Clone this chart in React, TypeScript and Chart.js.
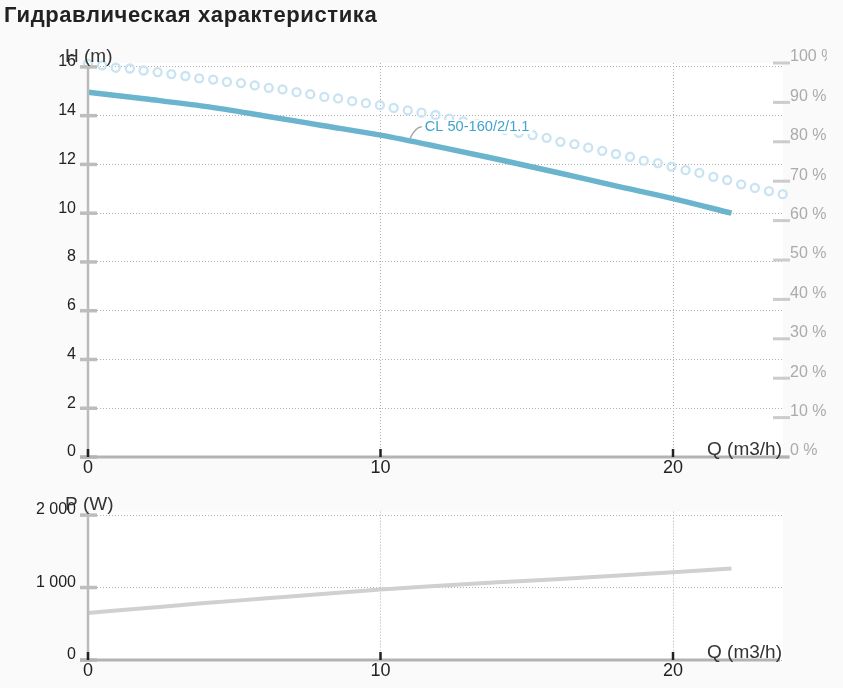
import React, { useEffect, useRef } from "react";
import { Chart, registerables } from "chart.js";

Chart.register(...registerables);

const FONT = "'Liberation Sans', Arial, Helvetica, sans-serif";

// ---- tick values / labels ----
const qTicks = [0, 10, 20];
const headTicks = [0, 2, 4, 6, 8, 10, 12, 14, 16];
const effTicks = [0, 10, 20, 30, 40, 50, 60, 70, 80, 90, 100];
const effTickLabels = ["0 %", "10 %", "20 %", "30 %", "40 %", "50 %", "60 %", "70 %", "80 %", "90 %", "100 %"];
const powerTicks = [0, 1000, 2000];
const powerTickLabels = ["0", "1 000", "2 000"];

// ---- series ----
const headQ = [0, 2, 4, 6, 8, 10, 12, 14, 16, 18, 20, 22];
const headH = [14.96, 14.68, 14.38, 14.0, 13.6, 13.2, 12.72, 12.21, 11.68, 11.13, 10.6, 10.0];

const effQ = [
  0, 0.48, 0.95, 1.43, 1.9, 2.38, 2.85, 3.33, 3.8, 4.28, 4.75, 5.23, 5.7, 6.18, 6.65, 7.13, 7.6,
  8.08, 8.55, 9.03, 9.5, 9.98, 10.45, 10.93, 11.4, 11.88, 12.35, 12.83, 13.3, 13.78, 14.25, 14.73,
  15.2, 15.68, 16.15, 16.63, 17.1, 17.58, 18.05, 18.53, 19.0, 19.48, 19.95, 20.43, 20.9, 21.38,
  21.85, 22.33, 22.8, 23.28, 23.75,
];
const effPct = [
  99.8, 99.4, 98.8, 98.6, 98.1, 97.7, 97.2, 96.7, 96.1, 95.8, 95.2, 94.9, 94.3, 93.7, 93.3, 92.6,
  92.1, 91.4, 91.0, 90.3, 89.8, 89.3, 88.6, 88.0, 87.4, 86.8, 85.9, 85.2, 84.5, 83.7, 83.0, 82.3,
  81.7, 81.0, 80.0, 79.4, 78.5, 77.7, 76.9, 76.2, 75.2, 74.6, 73.7, 72.8, 72.1, 71.1, 70.3, 69.2,
  68.3, 67.5, 66.7,
];

const powerQ = [0, 2, 4, 6, 8, 10, 12, 14, 16, 18, 20, 22];
const powerW = [650, 718, 785, 848, 912, 972, 1025, 1072, 1116, 1162, 1210, 1262];

const curveName = "CL 50-160/2/1.1";
const labelQ = 11;
const labelH = 12.97;

const Q_MAX = 23.76;
const H_MAX = 16.16;
const P_MAX = 2048;

const GRID = "#b0b0b0";

function fixedTicks(values: number[]) {
  return (scale: any) => {
    scale.ticks = values.map((v) => ({ value: v }));
  };
}

const whiteArea = {
  id: "whiteArea",
  beforeDraw(chart: any) {
    const { ctx, chartArea: a } = chart;
    ctx.save();
    ctx.fillStyle = "#ffffff";
    ctx.fillRect(a.left, a.top, a.right - a.left, a.bottom - a.top);
    ctx.restore();
  },
};

function axesPlugin(yId: string, yTitle: string, xTitle: string, axisRightExtra: number, rightId?: string) {
  return {
    id: "axesDeco",
    afterDraw(chart: any) {
      const { ctx, chartArea: a, scales } = chart;
      const xs = scales.x;
      const ys = scales[yId];
      ctx.save();
      // left axis line
      const topTick = ys.getPixelForValue(ys.ticks[ys.ticks.length - 1].value);
      ctx.strokeStyle = "#bbbbbb";
      ctx.lineWidth = 2.5;
      ctx.beginPath();
      ctx.moveTo(a.left, topTick);
      ctx.lineTo(a.left, a.bottom);
      ctx.stroke();
      // left tick bars
      ctx.lineWidth = 3.5;
      ctx.strokeStyle = "#bdbdbd";
      ys.ticks.forEach((t: any) => {
        const y = ys.getPixelForValue(t.value);
        ctx.beginPath();
        ctx.moveTo(a.left - 8, y);
        ctx.lineTo(a.left + 9, y);
        ctx.stroke();
      });
      // right tick bars
      if (rightId) {
        const rs = scales[rightId];
        ctx.strokeStyle = "#cccccc";
        ctx.lineWidth = 3;
        rs.ticks.forEach((t: any) => {
          const y = rs.getPixelForValue(t.value);
          ctx.beginPath();
          ctx.moveTo(a.right - 10, y);
          ctx.lineTo(a.right + 7, y);
          ctx.stroke();
        });
      }
      // x axis line
      ctx.strokeStyle = "#b3b3b3";
      ctx.lineWidth = 3;
      ctx.beginPath();
      ctx.moveTo(a.left - 8, a.bottom);
      ctx.lineTo(a.right + axisRightExtra, a.bottom);
      ctx.stroke();
      // x tick marks
      ctx.strokeStyle = "#222222";
      ctx.lineWidth = 2.5;
      xs.ticks.forEach((t: any) => {
        const x = xs.getPixelForValue(t.value);
        ctx.beginPath();
        ctx.moveTo(x, a.bottom - 8);
        ctx.lineTo(x, a.bottom);
        ctx.stroke();
      });
      // axis titles
      ctx.fillStyle = "#333333";
      ctx.font = `19px ${FONT}`;
      ctx.textBaseline = "alphabetic";
      ctx.textAlign = "left";
      ctx.fillText(yTitle, a.left - 23, a.top - 1.5);
      ctx.textAlign = "right";
      ctx.fillText(xTitle, a.right - 1, a.bottom - 2);
      ctx.restore();
    },
  };
}

const curveLabel = {
  id: "curveLabel",
  afterDatasetsDraw(chart: any) {
    const { ctx, scales } = chart;
    const x = scales.x.getPixelForValue(labelQ);
    const y = scales.y.getPixelForValue(labelH);
    ctx.save();
    ctx.font = `14.6px ${FONT}`;
    const w = ctx.measureText(curveName).width;
    const tx = x + 15;
    const tb = y - 10;
    ctx.fillStyle = "#ffffff";
    ctx.fillRect(tx - 3, tb - 11, w + 6, 14);
    ctx.strokeStyle = "#a8a8a8";
    ctx.lineWidth = 1.5;
    ctx.beginPath();
    ctx.moveTo(x, y - 2);
    ctx.quadraticCurveTo(x + 6, y - 14, x + 12, y - 14);
    ctx.stroke();
    ctx.fillStyle = "#40a3d0";
    ctx.textBaseline = "alphabetic";
    ctx.textAlign = "left";
    ctx.fillText(curveName, tx, tb);
    ctx.restore();
  },
};

export default function App() {
  const topRef = useRef<HTMLCanvasElement>(null);
  const botRef = useRef<HTMLCanvasElement>(null);

  useEffect(() => {
    const xScale = (height: number) => ({
      type: "linear" as const,
      min: 0,
      max: Q_MAX,
      afterBuildTicks: fixedTicks(qTicks),
      afterFit: (s: any) => {
        s.height = height;
      },
      grid: { color: GRID, lineWidth: 1, drawTicks: false },
      border: { display: false, dash: [1, 2] },
      ticks: {
        font: { family: FONT, size: 18 },
        color: "#222222",
        padding: 0,
        maxRotation: 0,
        autoSkip: false,
        callback: (v: any) => String(v),
      },
    });

    const c1 = new Chart(topRef.current as HTMLCanvasElement, {
      type: "line",
      data: {
        datasets: [
          {
            data: headQ.map((q, i) => ({ x: q, y: headH[i] })),
            borderColor: "#6ab4ce",
            borderWidth: 5.5,
            pointRadius: 0,
            cubicInterpolationMode: "monotone",
            yAxisID: "y",
          } as any,
          {
            data: effQ.map((q, i) => ({ x: q, y: effPct[i] })),
            showLine: false,
            pointRadius: 4,
            pointBorderWidth: 2.3,
            pointBorderColor: "#c8e3f1",
            pointBackgroundColor: "rgba(255,255,255,0)",
            yAxisID: "y1",
            clip: false,
          } as any,
        ],
      },
      options: {
        responsive: false,
        animation: false,
        events: [],
        layout: { padding: { top: 63, left: 0, right: 0, bottom: 0 } },
        plugins: { legend: { display: false }, tooltip: { enabled: false } },
        scales: {
          x: xScale(33),
          y: {
            type: "linear",
            position: "left",
            min: 0,
            max: H_MAX,
            afterBuildTicks: fixedTicks(headTicks),
            afterFit: (s: any) => {
              s.width = 88;
            },
            grid: { color: GRID, lineWidth: 1, drawTicks: false },
            border: { display: false, dash: [1, 2] },
            ticks: {
              font: { family: FONT, size: 16 },
              color: "#222222",
              padding: 12,
              labelOffset: -5,
              callback: (v: any) => String(v),
            },
          },
          y1: {
            type: "linear",
            position: "right",
            min: 0,
            max: 100,
            afterBuildTicks: fixedTicks(effTicks),
            afterFit: (s: any) => {
              s.width = 44;
            },
            grid: { display: false, drawTicks: false },
            border: { display: false },
            ticks: {
              font: { family: FONT, size: 16 },
              color: "#ababab",
              padding: 7,
              labelOffset: -6,
              callback: (_v: any, i: number) => effTickLabels[i],
            },
          },
        } as any,
      },
      plugins: [whiteArea, curveLabel, axesPlugin("y", "H (m)", "Q (m3/h)", 6, "y1")],
    });

    const c2 = new Chart(botRef.current as HTMLCanvasElement, {
      type: "line",
      data: {
        datasets: [
          {
            data: powerQ.map((q, i) => ({ x: q, y: powerW[i] })),
            borderColor: "#d0d0d0",
            borderWidth: 4,
            pointRadius: 0,
            cubicInterpolationMode: "monotone",
            yAxisID: "y",
          } as any,
        ],
      },
      options: {
        responsive: false,
        animation: false,
        events: [],
        layout: { padding: { top: 13, left: 0, right: 60, bottom: 0 } },
        plugins: { legend: { display: false }, tooltip: { enabled: false } },
        scales: {
          x: xScale(28),
          y: {
            type: "linear",
            position: "left",
            min: 0,
            max: P_MAX,
            afterBuildTicks: fixedTicks(powerTicks),
            afterFit: (s: any) => {
              s.width = 88;
            },
            grid: { color: GRID, lineWidth: 1, drawTicks: false },
            border: { display: false, dash: [1, 2] },
            ticks: {
              font: { family: FONT, size: 16 },
              color: "#222222",
              padding: 12,
              labelOffset: -5,
              callback: (_v: any, i: number) => powerTickLabels[i],
            },
          },
        } as any,
      },
      plugins: [whiteArea, axesPlugin("y", "P (W)", "Q (m3/h)", -3)],
    });

    return () => {
      c1.destroy();
      c2.destroy();
    };
  }, []);

  return (
    <div
      style={{
        position: "fixed",
        left: 0,
        top: 0,
        width: 843,
        height: 688,
        background: "#fafafa",
        overflow: "hidden",
      }}
    >
      <canvas
        ref={topRef}
        width={827}
        height={490}
        style={{ position: "absolute", left: 0, top: 0, width: 827, height: 490 }}
      />
      <canvas
        ref={botRef}
        width={843}
        height={198}
        style={{ position: "absolute", left: 0, top: 490, width: 843, height: 198 }}
      />
      <div
        style={{
          position: "absolute",
          left: 4,
          top: 4,
          font: `bold 22px ${FONT}`,
          letterSpacing: "0.6px",
          lineHeight: "22px",
          color: "#222222",
          whiteSpace: "nowrap",
        }}
      >
        Гидравлическая характеристика
      </div>
    </div>
  );
}
